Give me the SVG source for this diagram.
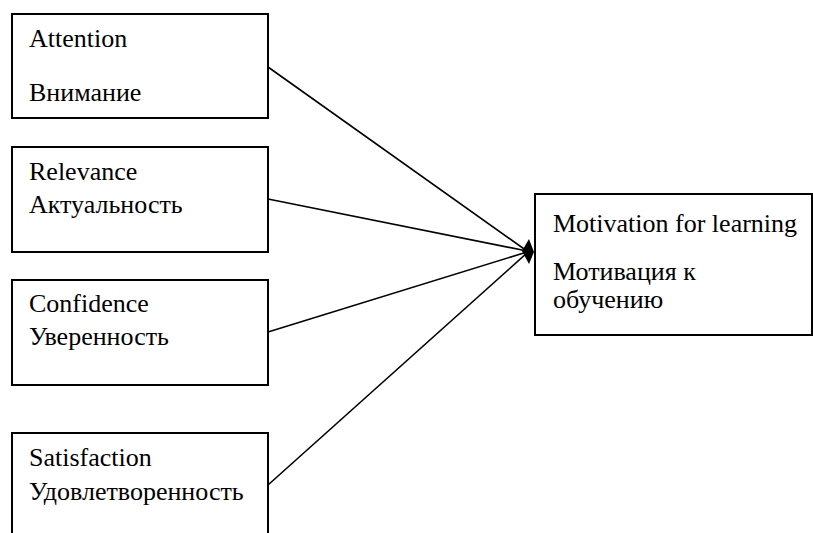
<svg xmlns="http://www.w3.org/2000/svg" width="813" height="533" viewBox="0 0 813 533">
  <style>
    .box { fill: #fff; stroke: #000; stroke-width: 2; }
    .lbl { font-family: "Liberation Serif", "Times New Roman", serif; font-size: 26px; fill: #000; }
    .edge { stroke: #000; stroke-width: 1.6; fill: none; }
  </style>
  <rect x="0" y="0" width="813" height="533" fill="#fff"/>

  <g id="attention">
    <rect class="box" x="12" y="14" width="256" height="104"/>
    <text class="lbl" x="29" y="47">Attention</text>
    <text class="lbl" x="29" y="101">Внимание</text>
  </g>

  <g id="relevance">
    <rect class="box" x="12" y="147" width="256" height="105"/>
    <text class="lbl" x="29" y="180">Relevance</text>
    <text class="lbl" x="29" y="213">Актуальность</text>
  </g>

  <g id="confidence">
    <rect class="box" x="12" y="280" width="256" height="105"/>
    <text class="lbl" x="29" y="312">Confidence</text>
    <text class="lbl" x="29" y="345">Уверенность</text>
  </g>

  <g id="satisfaction">
    <rect class="box" x="12" y="433" width="256" height="110"/>
    <text class="lbl" x="29" y="466">Satisfaction</text>
    <text class="lbl" x="29" y="500">Удовлетворенность</text>
  </g>

  <g id="motivation">
    <rect class="box" x="535" y="194" width="277" height="141"/>
    <text class="lbl" x="553" y="232">Motivation for learning</text>
    <text class="lbl" x="553" y="280">Мотивация к</text>
    <text class="lbl" x="553" y="308">обучению</text>
  </g>

  <g id="connectors">
    <line class="edge" x1="268" y1="67" x2="527" y2="251"/>
    <line class="edge" x1="268" y1="199" x2="527" y2="251"/>
    <line class="edge" x1="268" y1="332" x2="527" y2="252"/>
    <line class="edge" x1="268" y1="485" x2="527" y2="253"/>
    <polygon points="522,251 529,239 534,252 529,264" fill="#000"/>
  </g>
</svg>
